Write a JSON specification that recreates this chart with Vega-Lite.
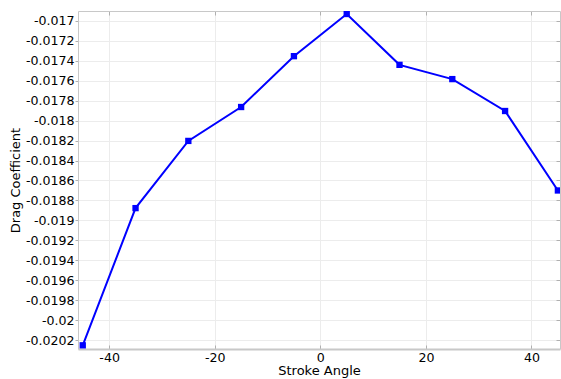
{
  "$schema": "https://vega.github.io/schema/vega-lite/v6.json",
  "width": 482,
  "height": 338,
  "autosize": {"type": "none"},
  "padding": {"left": 78, "top": 11, "right": 1, "bottom": 30},
  "background": "white",
  "config": {
    "view": {"stroke": null},
    "font": "DejaVu Sans",
    "axis": {"labelFont": "DejaVu Sans", "titleFont": "DejaVu Sans", "labelColor": "black", "titleColor": "black", "labelFontSize": 12.6, "titleFontSize": 13, "titleFontWeight": "normal", "gridColor": "#ececec", "gridWidth": 1, "domainColor": "#c8c8c8", "tickColor": "#b0b0b0", "tickSize": 4}
  },
  "data": {
    "values": [
      {"angle": -45, "cd": -0.020253},
      {"angle": -35, "cd": -0.018877},
      {"angle": -25, "cd": -0.018203},
      {"angle": -15, "cd": -0.017863},
      {"angle": -5, "cd": -0.017353},
      {"angle": 5, "cd": -0.01693},
      {"angle": 15, "cd": -0.01744},
      {"angle": 25, "cd": -0.017583},
      {"angle": 35, "cd": -0.017903},
      {"angle": 45, "cd": -0.0187}
    ]
  },
  "layer": [
    {
      "mark": {"type": "line", "color": "#0000ff", "strokeWidth": 2, "clip": true},
      "encoding": {
        "x": {"field": "angle", "type": "quantitative", "scale": {"domain": [-45.9, 45.4], "nice": false, "zero": false},
          "axis": {"title": "Stroke Angle", "values": [-40, -20, 0, 20, 40], "labelExpr": "toString(datum.value)", "tickSize": -4, "labelPadding": 6, "titlePadding": 1, "domainWidth": 2}},
        "y": {"field": "cd", "type": "quantitative", "scale": {"domain": [-0.02029, -0.0169], "nice": false, "zero": false},
          "axis": {"title": "Drag Coefficient", "labelExpr": "toString(datum.value)", "tickSize": 3, "values": [-0.017, -0.0172, -0.0174, -0.0176, -0.0178, -0.018, -0.0182, -0.0184, -0.0186, -0.0188, -0.019, -0.0192, -0.0194, -0.0196, -0.0198, -0.02, -0.0202], "labelPadding": 1, "titlePadding": 3}}
      }
    },
    {
      "mark": {"type": "point", "shape": "square", "filled": true, "opacity": 1, "color": "#0000ff", "size": 40, "clip": true},
      "encoding": {
        "x": {"field": "angle", "type": "quantitative",
          "axis": {"orient": "top", "labels": false, "title": null, "grid": false, "values": [-40, -20, 0, 20, 40], "tickSize": -4}},
        "y": {"field": "cd", "type": "quantitative",
          "axis": {"orient": "right", "labels": false, "title": null, "grid": false, "tickSize": -4, "values": [-0.017, -0.0172, -0.0174, -0.0176, -0.0178, -0.018, -0.0182, -0.0184, -0.0186, -0.0188, -0.019, -0.0192, -0.0194, -0.0196, -0.0198, -0.02, -0.0202]}}
      }
    }
  ],
  "resolve": {"axis": {"x": "independent", "y": "independent"}}
}
